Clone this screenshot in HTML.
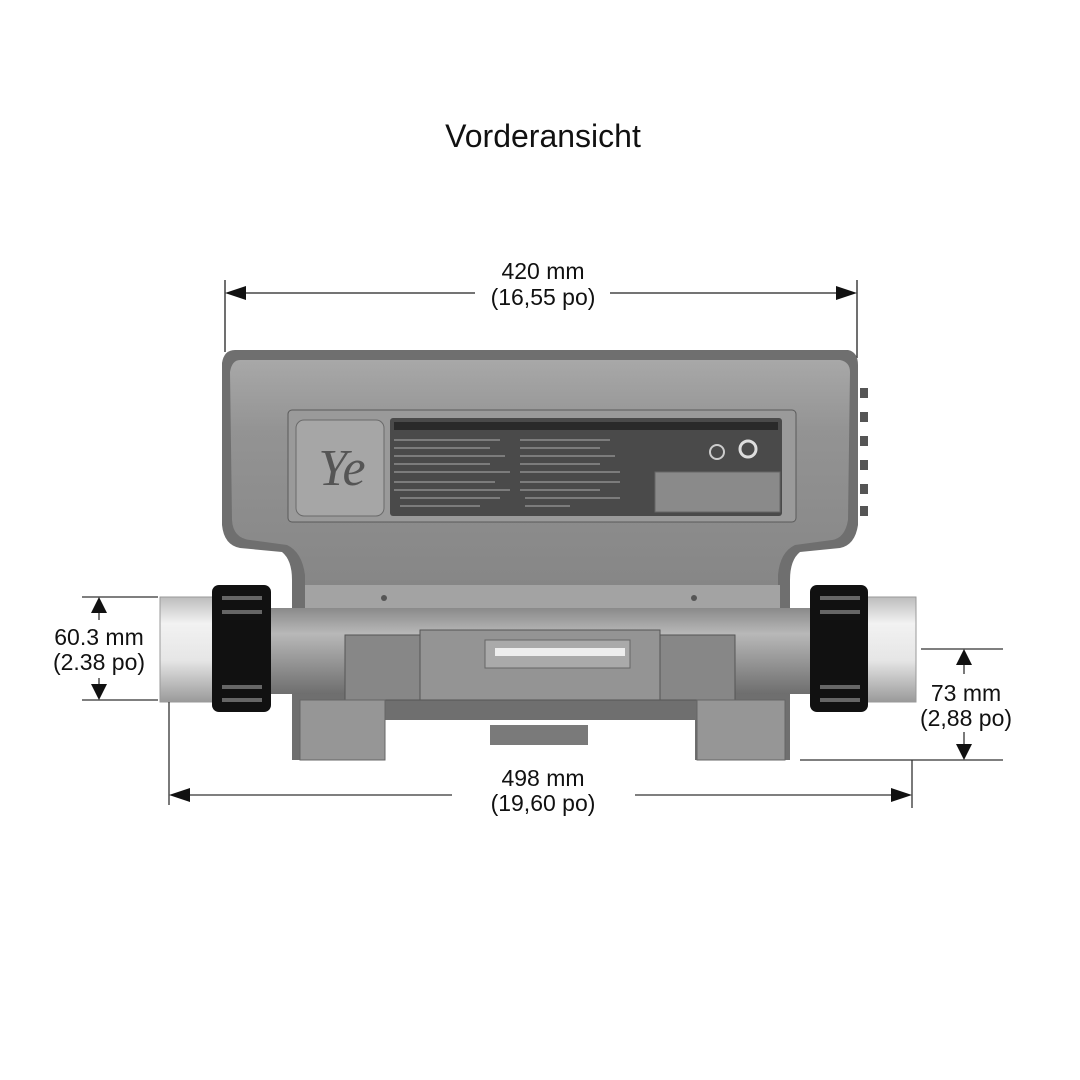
<!DOCTYPE html>
<html><head><meta charset="utf-8"><style>
html,body{margin:0;padding:0;background:#fff}
svg{display:block}
text{font-family:"Liberation Sans",Arial,sans-serif;fill:#111}
</style></head><body>
<svg width="1080" height="1080" viewBox="0 0 1080 1080" xmlns="http://www.w3.org/2000/svg">
<defs>
<linearGradient id="pipe" x1="0" y1="0" x2="0" y2="1">
<stop offset="0" stop-color="#bdbdbd"/><stop offset="0.25" stop-color="#f2f2f2"/><stop offset="0.6" stop-color="#e6e6e6"/><stop offset="1" stop-color="#9a9a9a"/></linearGradient>
<linearGradient id="pipe2" x1="0" y1="0" x2="0" y2="1">
<stop offset="0" stop-color="#8a8a8a"/><stop offset="0.3" stop-color="#b8b8b8"/><stop offset="1" stop-color="#6e6e6e"/></linearGradient>
<linearGradient id="top" x1="0" y1="0" x2="0" y2="1">
<stop offset="0" stop-color="#a8a8a8"/><stop offset="0.3" stop-color="#939393"/><stop offset="1" stop-color="#858585"/></linearGradient>
</defs>
<text x="543" y="147" font-size="32" text-anchor="middle">Vorderansicht</text>

<g stroke="#222" stroke-width="1.3">
<line x1="225" y1="280" x2="225" y2="352"/><line x1="857" y1="280" x2="857" y2="358"/>
<line x1="240" y1="293" x2="475" y2="293"/><line x1="610" y1="293" x2="842" y2="293"/>
</g>
<polygon points="225,293 246,286 246,300" fill="#111"/><polygon points="857,293 836,286 836,300" fill="#111"/>
<text x="543" y="279" font-size="23" text-anchor="middle">420 mm</text>
<text x="543" y="305" font-size="23" text-anchor="middle">(16,55 po)</text>

<path d="M235,350 L848,350 Q858,352 858,365 L858,525 Q855,545 840,548 L800,552 Q790,560 790,580 L790,760 L695,760 L695,720 L385,720 L385,760 L292,760 L292,580 Q292,560 282,552 L240,548 Q224,545 222,525 L222,363 Q224,350 235,350 Z" fill="#6f6f6f"/>
<path d="M240,360 L840,360 Q850,362 850,372 L848,520 Q845,538 832,540 L795,545 Q780,552 778,575 L778,600 L305,600 L305,575 Q302,552 287,545 L250,540 Q233,538 232,520 L230,372 Q232,360 240,360 Z" fill="url(#top)"/>
<rect x="288" y="410" width="508" height="112" rx="4" fill="#9a9a9a" stroke="#5a5a5a"/>
<rect x="296" y="420" width="88" height="96" rx="8" fill="#a6a6a6" stroke="#6a6a6a"/>
<text x="342" y="485" font-size="52" font-style="italic" text-anchor="middle" style="fill:#555;font-family:'Liberation Serif',serif">Ye</text>
<rect x="390" y="418" width="392" height="98" rx="3" fill="#4a4a4a"/>
<rect x="394" y="422" width="384" height="8" fill="#2a2a2a"/>
<g stroke="#8d8d8d" stroke-width="1.4">
<line x1="394" y1="440" x2="500" y2="440"/><line x1="394" y1="448" x2="490" y2="448"/><line x1="394" y1="456" x2="505" y2="456"/><line x1="394" y1="464" x2="490" y2="464"/><line x1="394" y1="472" x2="510" y2="472"/><line x1="394" y1="482" x2="495" y2="482"/><line x1="394" y1="490" x2="510" y2="490"/><line x1="400" y1="498" x2="500" y2="498"/><line x1="400" y1="506" x2="480" y2="506"/>
<line x1="520" y1="440" x2="610" y2="440"/><line x1="520" y1="448" x2="600" y2="448"/><line x1="520" y1="456" x2="615" y2="456"/><line x1="520" y1="464" x2="600" y2="464"/><line x1="520" y1="472" x2="620" y2="472"/><line x1="520" y1="482" x2="620" y2="482"/><line x1="520" y1="490" x2="600" y2="490"/><line x1="525" y1="498" x2="620" y2="498"/><line x1="525" y1="506" x2="570" y2="506"/>
</g>
<rect x="655" y="472" width="125" height="40" fill="#8a8a8a" stroke="#666"/>
<circle cx="717" cy="452" r="7" fill="none" stroke="#ccc" stroke-width="2"/>
<circle cx="748" cy="449" r="8" fill="none" stroke="#ddd" stroke-width="3"/>
<g fill="#555"><rect x="860" y="388" width="8" height="10"/><rect x="860" y="412" width="8" height="10"/><rect x="860" y="436" width="8" height="10"/><rect x="860" y="460" width="8" height="10"/><rect x="860" y="484" width="8" height="10"/><rect x="860" y="506" width="8" height="10"/></g>
<rect x="305" y="585" width="475" height="25" fill="#a3a3a3"/>
<circle cx="384" cy="598" r="3" fill="#555"/><circle cx="694" cy="598" r="3" fill="#555"/>
<rect x="160" y="597" width="60" height="105" fill="url(#pipe)" stroke="#999"/>
<rect x="862" y="597" width="54" height="105" fill="url(#pipe)" stroke="#999"/>
<rect x="268" y="608" width="545" height="86" fill="url(#pipe2)"/>
<rect x="345" y="635" width="75" height="65" fill="#878787" stroke="#555"/>
<rect x="660" y="635" width="75" height="65" fill="#878787" stroke="#555"/>
<rect x="420" y="630" width="240" height="70" fill="#949494" stroke="#555"/>
<rect x="485" y="640" width="145" height="28" fill="#aaa" stroke="#666"/>
<rect x="495" y="648" width="130" height="8" fill="#eee"/>
<rect x="490" y="725" width="98" height="20" fill="#7a7a7a"/>
<rect x="300" y="700" width="85" height="60" fill="#969696" stroke="#666"/>
<rect x="697" y="700" width="88" height="60" fill="#969696" stroke="#666"/>
<rect x="212" y="585" width="59" height="127" rx="7" fill="#111"/>
<rect x="810" y="585" width="58" height="127" rx="7" fill="#111"/>
<g fill="#666"><rect x="222" y="596" width="40" height="4"/><rect x="222" y="610" width="40" height="4"/><rect x="222" y="685" width="40" height="4"/><rect x="222" y="698" width="40" height="4"/>
<rect x="820" y="596" width="40" height="4"/><rect x="820" y="610" width="40" height="4"/><rect x="820" y="685" width="40" height="4"/><rect x="820" y="698" width="40" height="4"/></g>

<g stroke="#333" stroke-width="1.3">
<line x1="82" y1="597" x2="158" y2="597"/><line x1="82" y1="700" x2="158" y2="700"/>
<line x1="99" y1="612" x2="99" y2="620"/><line x1="99" y1="678" x2="99" y2="686"/>
<line x1="169" y1="702" x2="169" y2="805"/><line x1="912" y1="760" x2="912" y2="808"/>
<line x1="921" y1="649" x2="1003" y2="649"/><line x1="800" y1="760" x2="1003" y2="760"/>
<line x1="964" y1="664" x2="964" y2="674"/><line x1="964" y1="732" x2="964" y2="744"/>
<line x1="185" y1="795" x2="452" y2="795"/><line x1="635" y1="795" x2="898" y2="795"/>
</g>
<polygon points="99,597 91,613 107,613" fill="#111"/><polygon points="99,700 91,684 107,684" fill="#111"/>
<polygon points="964,649 956,665 972,665" fill="#111"/><polygon points="964,760 956,744 972,744" fill="#111"/>
<polygon points="169,795 190,788 190,802" fill="#111"/><polygon points="912,795 891,788 891,802" fill="#111"/>
<text x="99" y="645" font-size="23" text-anchor="middle">60.3 mm</text>
<text x="99" y="670" font-size="23" text-anchor="middle">(2.38 po)</text>
<text x="966" y="701" font-size="23" text-anchor="middle">73 mm</text>
<text x="966" y="726" font-size="23" text-anchor="middle">(2,88 po)</text>
<text x="543" y="786" font-size="23" text-anchor="middle">498 mm</text>
<text x="543" y="811" font-size="23" text-anchor="middle">(19,60 po)</text>
</svg>
</body></html>
